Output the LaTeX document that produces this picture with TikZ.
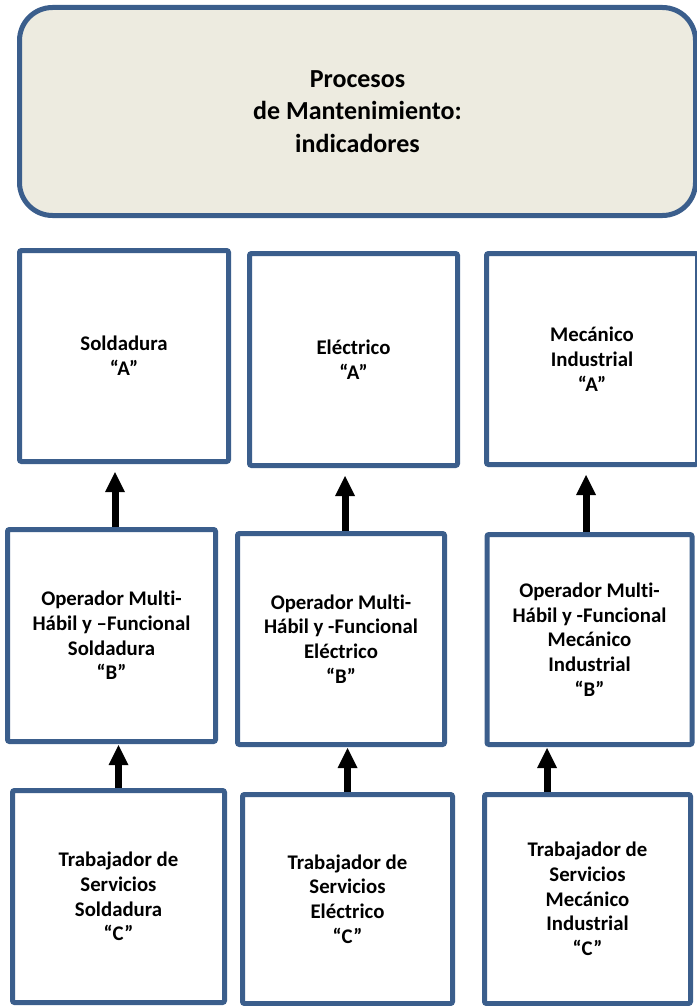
\documentclass[tikz,border=0pt]{standalone}
\usepackage{fontspec}
\setmainfont{Carlito}[Ligatures=NoCommon]
\usepackage{xcolor}
\usepackage{tikz}
\usetikzlibrary{arrows.meta}
\definecolor{boxblue}{HTML}{3B5E8C}
\definecolor{boxbeige}{HTML}{EDEBE0}

\begin{document}
\begin{tikzpicture}[x=1pt,y=-1pt]

                \tikzstyle{box}  = [draw=boxblue, line width=5pt, rounded corners=2pt, fill=white, align=center, inner sep=0pt, font=\bfseries\fontsize{20.8}{24.7}\selectfont]
                \tikzstyle{up}   = [line width=7pt, -{Triangle[width=20pt,length=20pt,line width=0pt]}]

                \useasboundingbox (0,0) rectangle (696,1006);

                \node [box, rounded corners=33pt, fill=boxbeige, minimum width=676pt, minimum height=208pt, font=\bfseries\fontsize{26}{32.5}\selectfont](top) at (357.5,111.5) {Procesos\\de Mantenimiento:\\indicadores};

                \node [box, minimum width=209pt, minimum height=211pt](a1) at (124,356) {Soldadura\\“A”};
                \node [box, minimum width=208pt, minimum height=212pt](a2) at (353.5,359.5) {Eléctrico\\“A”};
                \node [box, minimum width=211pt, minimum height=211pt](a3) at (592,359) {Mecánico\\Industrial\\“A”};

                \node [box, minimum width=208pt, minimum height=212pt](b1) at (111.5,635.5) {Operador Multi-\\Hábil y –Funcional\\Soldadura\\“B”};
                \node [box, minimum width=207pt, minimum height=211pt](b2) at (341,639) {Operador Multi-\\Hábil y -Funcional\\Eléctrico\\“B”};
                \node [box, minimum width=205pt, minimum height=210pt](b3) at (589.5,639.5) {Operador Multi-\\Hábil y -Funcional\\Mecánico\\Industrial\\“B”};

                \node [box, minimum width=212pt, minimum height=212pt](c1) at (118.5,896.5) {Trabajador de\\Servicios\\Soldadura\\“C”};
                \node [box, minimum width=210pt, minimum height=209pt](c2) at (347.5,899) {Trabajador de\\Servicios\\Eléctrico\\“C”};
                \node [box, minimum width=206pt, minimum height=209pt](c3) at (587.5,899) {Trabajador de\\Servicios\\Mecánico\\Industrial\\“C”};

                \foreach \i/\dx in {1/3.5, 2/4, 3/-3.5}
                {
                        \draw [up, shorten >=8pt] ([xshift=\dx pt]b\i.north) -- ([xshift=\dx pt]b\i.north |- a\i.south);
                }

                \foreach \i/\dx in {1/0, 2/0, 3/-40.5}
                {
                        \draw [up, shorten >=1pt] ([xshift=\dx pt]c\i.north) -- ([xshift=\dx pt]c\i.north |- b\i.south);
                }
\end{tikzpicture}
\end{document}
